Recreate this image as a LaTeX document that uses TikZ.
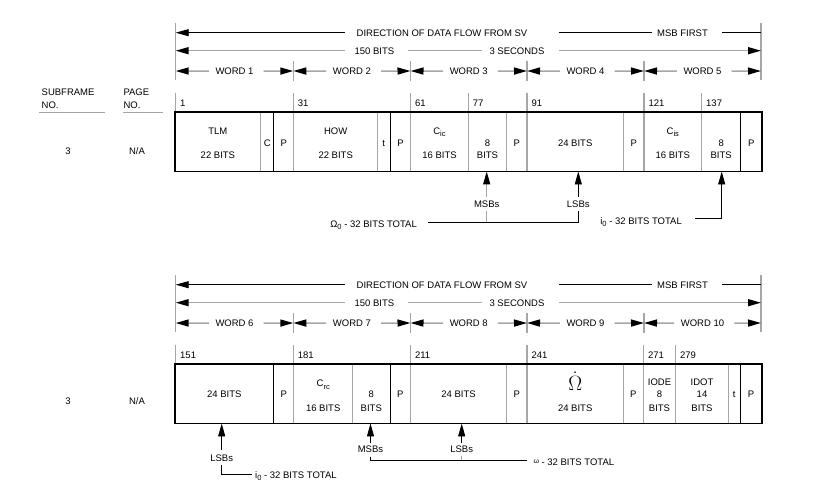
\documentclass[tikz,border=0pt]{standalone}
\usepackage{fontspec}
\setmainfont{Liberation Sans}
\usetikzlibrary{arrows.meta}
\newcommand\fs{\fontsize{9.5}{11}\selectfont}
\newcommand\lowsub[1]{\raisebox{-2.5pt}{\fontsize{7.5}{7.5}\selectfont #1}}
\newcommand\wordarrow[4]{%
  \node[tx] (#1) at ({(#2+#3)/2},71) {#4};
  \draw[gl,<-] (#2,71) -- ([xshift=-6.5pt]#1.west);
  \draw[gl,->] ([xshift=10pt]#1.east) -- (#3,71);
}
\newcommand\drawheader[6]{%
  \draw[gl] (175.7,23) -- (175.7,80);
  \draw[gl] (761,23) -- (761,80);
  \foreach \x in {293.3,410.5,527,644} {\draw[gl] (\x,60.7) -- (\x,80.7);}
  \node[tx] (#1dir) at (442,32.7) {DIRECTION OF DATA FLOW FROM SV};
  \node[tx] (#1msb) at (682.5,32.7) {MSB FIRST};
  \draw[bl,<-] (175.7,32.7) -- (345,32.7);
  \draw[bl] (558.5,32.7) -- (652,32.7);
  \draw[bl] (722,32.7) -- (761,32.7);
  \node[tx] (#1bits) at (374.4,50.7) {150 BITS};
  \node[tx] (#1sec) at (517,50.7) {3 SECONDS};
  \draw[gl,<-] (175.7,50.7) -- (345,50.7);
  \draw[gl] (407.7,50.7) -- (481.5,50.7);
  \draw[gl,->] (558.5,50.7) -- (761,50.7);
  \wordarrow{#1wa}{175.7}{293.3}{WORD #2}
  \wordarrow{#1wb}{293.3}{410.5}{WORD #3}
  \wordarrow{#1wc}{410.5}{527}{WORD #4}
  \wordarrow{#1wd}{527}{644}{WORD #5}
  \wordarrow{#1we}{644}{761}{WORD #6}
}
\tikzset{
  every node/.style={inner sep=0pt, font=\fs},
  tx/.style={anchor=base, yshift=-3.4pt},
  txw/.style={anchor=base west, yshift=-3.4pt},
  txe/.style={anchor=base east, yshift=-3.4pt},
  gl/.style={draw=black!35, line width=1.5pt},
  bl/.style={draw=black, line width=0.9pt},
  boxline/.style={draw=black, line width=1.2pt},
  >={Triangle[length=13pt,width=7pt,color=black]}
}
\begin{document}
\begin{tikzpicture}[x=1pt,y=-1pt]
\useasboundingbox (0,0) rectangle (820,494);
\fill[white] (0,0) rectangle (820,494);

% left column labels
\node[txw] (sf) at (41.5,91.7) {SUBFRAME};
\node[txw] (sfno) at (41.5,105) {NO.};
\node[txw] (pg) at (123.3,91.7) {PAGE};
\node[txw] (pgno) at (123.3,105) {NO.};
\draw[gl,line width=1pt] (39.3,112.7) -- (105,112.7);
\draw[gl,line width=1pt] (122.7,112.7) -- (163.3,112.7);
\node[tx] (sfa) at (68,151) {3};
\node[tx] (pga) at (137,151) {N/A};
\node[tx] (sfb) at (68,401) {3};
\node[tx] (pgb) at (137,401) {N/A};

% ================= TOP =================
\drawheader{a}{1}{2}{3}{4}{5}
\foreach \x/\n in {175.7/1,293.3/31,410.5/61,468.3/77,527/91,644/121,701.7/137}
  {\draw[gl] (\x,93) -- (\x,112); \node[txw] (na\n) at (\x+4.3,103) {\n};}
\foreach \x in {260.7,293.5,377.3,410.7,468.3,506.7,527,623.3,644,701.7}
  {\draw[gl] (\x,112) -- (\x,171.5);}
\foreach \x in {273.7,390.3,740.7}
  {\draw[bl] (\x,112) -- (\x,171.5);}
\draw[boxline] (175,112) rectangle (762,171.5);

\node[tx] (tlm) at (217.9,131) {TLM};
\node[tx] (tlmb) at (217.9,155) {22 BITS};
\node[tx] (cc) at (267.2,143) {C};
\node[tx] (pa) at (283.9,143) {P};
\node[tx] (how) at (335.7,131) {HOW};
\node[tx] (howb) at (335.7,155) {22 BITS};
\node[tx] (tta) at (383.8,143) {t};
\node[tx] (pb) at (400.5,143) {P};
\node[tx] (cic) at (439.5,131) {C\lowsub{ic}};
\node[tx] (cicb) at (439.5,155) {16 BITS};
\node[tx] (ea) at (487.5,143) {8};
\node[tx] (eab) at (487.5,155) {BITS};
\node[tx] (pc) at (516.8,143) {P};
\node[tx] (tfa) at (575.2,143) {24 BITS};
\node[tx] (pd) at (633.7,143) {P};
\node[tx] (cis) at (672.8,131) {C\lowsub{is}};
\node[tx] (cisb) at (672.8,155) {16 BITS};
\node[tx] (eb) at (721.2,143) {8};
\node[tx] (ebb) at (721.2,155) {BITS};
\node[tx] (pe) at (751.3,143) {P};

% pointers below top frame
\node[tx] (msba) at (486.7,204) {MSBs};
\node[tx] (lsba) at (578.3,204) {LSBs};
\coordinate (msbtip) at (486.7,171.5);
\coordinate (lsbtip) at (578.3,171.5);
\coordinate (itip) at (721.7,171.5);
\draw[gl,->] (msba.north |- 0,197) -- (msbtip);
\draw[gl] (msba.south |- 0,211) -- (msba.south |- 0,222.3);
\draw[bl,->] (lsba.north |- 0,197) -- (lsbtip);
\node[txe] (omt) at (417,224) {Ω\lowsub{0} - 32 BITS TOTAL};
\draw[bl] (lsba.south |- 0,211) -- (lsba.south |- 0,222.3) -- ([xshift=11pt]omt.east |- 0,222.3);
\node[txe] (iot) at (682,220.7) {i\lowsub{0} - 32 BITS TOTAL};
\draw[bl,->] ([xshift=13pt]iot.east |- 0,218.3) -- (itip |- 0,218.3) -- (itip);

% ================= BOTTOM =================
\begin{scope}[yshift=-252pt]
\drawheader{b}{6}{7}{8}{9}{10}
\foreach \x/\n in {175.7/151,293.3/181,410.5/211,527/241,643.5/271,675.5/279}
  {\draw[gl] (\x,93) -- (\x,112); \node[txw] (nb\n) at (\x+4.3,103) {\n};}
\foreach \x in {293.5,352.3,410.5,506.7,527,623.3,643.5,675.5,728.7}
  {\draw[gl] (\x,112) -- (\x,171.5);}
\foreach \x in {273.7,390.3,740}
  {\draw[bl] (\x,112) -- (\x,171.5);}
\draw[boxline] (175,112) rectangle (762,171.5);

\node[tx] (ga) at (224.3,142) {24 BITS};
\node[tx] (qa) at (283.9,142) {P};
\node[tx] (crc) at (323.2,131.5) {C\lowsub{rc}};
\node[tx] (crcb) at (323.2,156) {16 BITS};
\node[tx] (ha) at (371.3,142) {8};
\node[tx] (hab) at (371.3,156) {BITS};
\node[tx] (qb) at (400.4,142) {P};
\node[tx] (gb) at (458.6,142) {24 BITS};
\node[tx] (qc) at (516.8,142) {P};
\node[anchor=base,font=\fontsize{20}{20}\selectfont] (omd) at (575.2,138.5) {$\dot{\Omega}$};
\node[tx] (omdb) at (575.2,156) {24 BITS};
\node[tx] (qd) at (633.4,142) {P};
\node[tx] (iode) at (659.5,130.5) {IODE};
\node[tx] (iodea) at (659.5,142.5) {8};
\node[tx] (iodeb) at (659.5,156) {BITS};
\node[tx] (idot) at (702,130.5) {IDOT};
\node[tx] (idota) at (702,142.5) {14};
\node[tx] (idotb) at (702,156) {BITS};
\node[tx] (ttb) at (734.3,142) {t};
\node[tx] (qe) at (751,142) {P};

% pointers below bottom frame
\node[tx] (lsbb) at (221.7,205.7) {LSBs};
\node[tx] (msbb) at (370.5,197.3) {MSBs};
\node[tx] (lsbc) at (461.7,197.3) {LSBs};
\coordinate (tipb1) at (221.7,171.5);
\coordinate (tipb2) at (370.5,171.5);
\coordinate (tipb3) at (461.7,171.5);
\draw[bl,->] (lsbb.north |- 0,198) -- (tipb1);
\node[txw] (iob) at (255,223) {i\lowsub{0} - 32 BITS TOTAL};
\draw[bl] (lsbb.south |- 0,213) -- (lsbb.south |- 0,222.3) -- ([xshift=-3.5pt]iob.west |- 0,222.3);
\draw[bl,->] (msbb.north |- 0,191) -- (tipb2);
\draw[bl,->] (lsbc.north |- 0,191) -- (tipb3);
\node[txw] (omb) at (533.3,209.7) {\raisebox{1.5pt}{\fontsize{7}{7}\selectfont ω} - 32 BITS TOTAL};
\draw[bl] (msbb.south |- 0,204.7) -- (msbb.south |- 0,208) -- ([xshift=-6.5pt]omb.west |- 0,208);
\draw[gl] (lsbc.south |- 0,204) -- (lsbc.south |- 0,208);
\end{scope}
\end{tikzpicture}
\end{document}
